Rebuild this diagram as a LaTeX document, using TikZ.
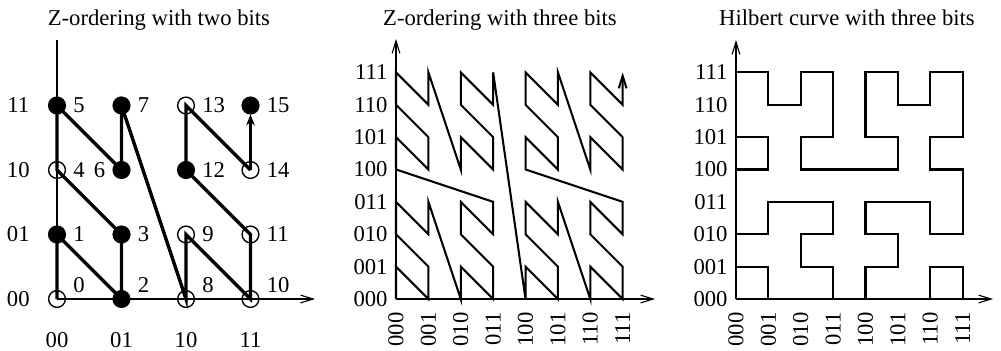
\documentclass[tikz,border=0pt]{standalone}
\usepackage{fontspec}
\setmainfont{Liberation Serif}
\usetikzlibrary{positioning,arrows.meta}

\begin{document}
\begin{tikzpicture}[
    dot/.style={circle,draw,line width=0.6pt,inner sep=0pt,minimum size=0.26cm},
    full/.style={dot,fill=black},
    hollow/.style={dot},
    num/.style={inner sep=0pt},
    axis/.style={line width=0.5pt},
    barb/.style={-{Straight Barb[length=5.5pt,width=3.4pt]}},
    curve/.style={line width=0.9pt},
    zpath/.style={line width=1.5pt}
  ]
  \useasboundingbox (-0.884,-0.806) rectangle (14.636,4.636);

  % Titles
  \node[anchor=base] (t1) at (1.58,4.248) {Z-ordering with two bits};
  \node[anchor=base] (t2) at (6.868,4.248) {Z-ordering with three bits};
  \node[anchor=base] (t3) at (12.248,4.248) {Hilbert curve with three bits};

  % Z-ordering with two bits
  \draw[axis] (0,0) -- (0,4.016);
  \draw[axis,barb] (0,0) -- (4.0,0);
  \foreach \y/\b in {0/00,1/01,2/10,3/11} {
    \node[num] (ya\y) at (-0.6,\y) {\b};
    \node[num] (xa\y) at (\y,-0.636) {\b};
  }

  % Grid points
  \foreach \n/\x/\y/\s in {0/0/0/hollow,1/0/1/full,2/1/0/full,3/1/1/full,
      4/0/2/hollow,5/0/3/full,6/1/2/full,7/1/3/full,
      8/2/0/hollow,9/2/1/hollow,10/3/0/hollow,11/3/1/hollow,
      12/2/2/full,13/2/3/hollow,14/3/2/hollow,15/3/3/full} {
    \node[\s] (p\n) at (\x,\y) {};
  }

  % Order of the points
  \draw[zpath] (p0.center) \foreach \n in {1,...,14} { -- (p\n.center) };
  \draw[zpath,-{Stealth[length=4.8pt,width=3.8pt]}] (p14.center) -- (p15);

  % Point numbers
  \foreach \n in {1,3,4,5,7,9,11,12,13,14,15} {
    \node[num,right=3pt of p\n] (n\n) {\n};
  }
  \node[num,left=3pt of p6] (n6) {6};
  \foreach \n in {0,2,8,10} {
    \node[num,right=3pt of p\n,yshift=0.217cm] (n\n) {\n};
  }

  % Z-ordering with three bits
  \begin{scope}[shift={(5.256,0)},x=0.502cm,y=0.502cm]
    \draw[axis,barb] (0,0) -- (0,8.03);
    \draw[axis,barb] (0,0) -- (8.0,0);
    \foreach \y/\b in {0/000,1/001,2/010,3/011,4/100,5/101,6/110,7/111} {
      \node[num,anchor=east] (yb\y) at ([xshift=-0.124cm]0,\y) {\b};
      \node[num,anchor=east,rotate=90] (xb\y) at ([yshift=-0.2cm]\y,0) {\b};
    }
    \draw[curve,barb] (0,0) \foreach \i [evaluate=\i as \zx using {mod(floor(\i/2),2)+2*mod(floor(\i/8),2)+4*mod(floor(\i/32),2)},
        evaluate=\i as \zy using {mod(\i,2)+2*mod(floor(\i/4),2)+4*mod(floor(\i/16),2)}] in {1,...,63} { -- (\zx,\zy) };
  \end{scope}

  % Hilbert curve with three bits
  \begin{scope}[shift={(10.527,0)},x=0.502cm,y=0.502cm]
    \draw[axis,barb] (0,0) -- (0,8.0);
    \draw[axis,barb] (0,0) -- (7.94,0);
    \foreach \y/\b in {0/000,1/001,2/010,3/011,4/100,5/101,6/110,7/111} {
      \node[num,anchor=east] (yc\y) at ([xshift=-0.124cm]0,\y) {\b};
      \node[num,anchor=east,rotate=90] (xc\y) at ([yshift=-0.2cm]\y,0) {\b};
    }
    \draw[curve] (0,0) -- (0,1) -- (1,1) -- (1,0) -- (2,0) -- (3,0) -- (3,1) -- (2,1)
      -- (2,2) -- (3,2) -- (3,3) -- (2,3) -- (1,3) -- (1,2) -- (0,2) -- (0,3)
      -- (0,4) -- (1,4) -- (1,5) -- (0,5) -- (0,6) -- (0,7) -- (1,7) -- (1,6)
      -- (2,6) -- (2,7) -- (3,7) -- (3,6) -- (3,5) -- (2,5) -- (2,4) -- (3,4)
      -- (4,4) -- (5,4) -- (5,5) -- (4,5) -- (4,6) -- (4,7) -- (5,7) -- (5,6)
      -- (6,6) -- (6,7) -- (7,7) -- (7,6) -- (7,5) -- (6,5) -- (6,4) -- (7,4)
      -- (7,3) -- (7,2) -- (6,2) -- (6,3) -- (5,3) -- (4,3) -- (4,2) -- (5,2)
      -- (5,1) -- (4,1) -- (4,0) -- (5,0) -- (6,0) -- (6,1) -- (7,1) -- (7,0);
  \end{scope}
\end{tikzpicture}
\end{document}
